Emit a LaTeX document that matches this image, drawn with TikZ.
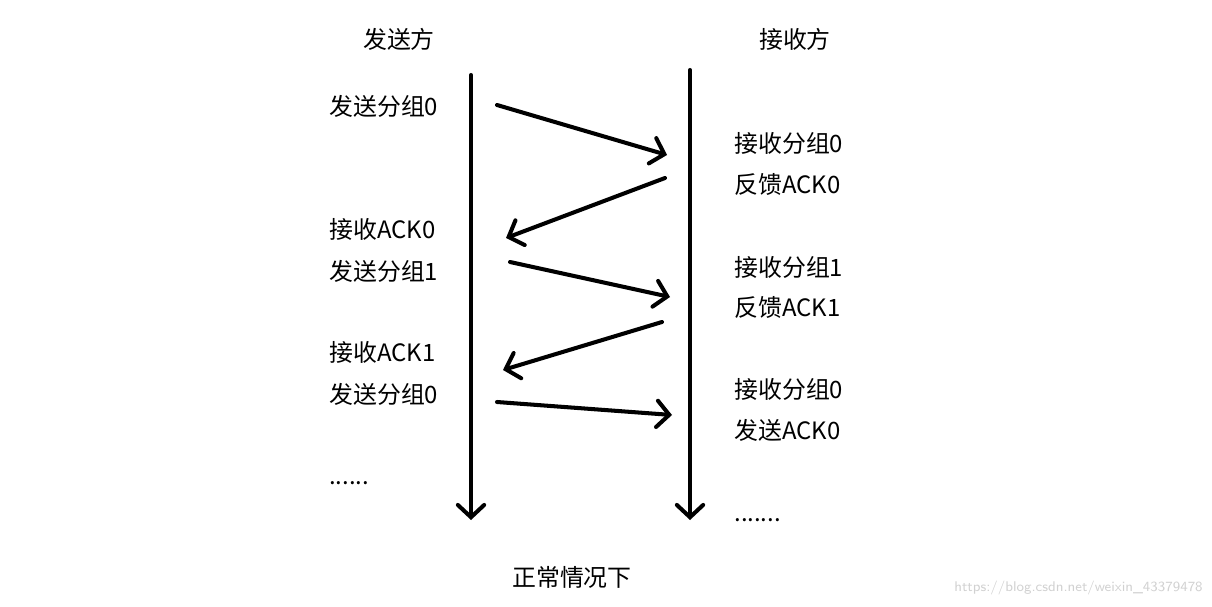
\documentclass[tikz,border=0pt]{standalone}
\usepackage{fontspec}
\usepackage{tikz}
\usetikzlibrary{arrows.meta,positioning}
\newfontfamily\cjk{Noto Sans CJK SC}

\begin{document}
\begin{tikzpicture}[
        x=0.02cm, y=-0.02cm,
        lbl/.style={anchor=west, inner sep=0pt, font=\cjk\fontsize{13.6}{16}\selectfont},
        dots/.style={lbl, anchor=base west},
        head/.style={inner sep=0pt, font=\cjk\fontsize{13.6}{16}\selectfont},
        timeline/.style={line width=2.3pt, line cap=round, -{Straight Barb[length=7pt,width=15pt,line cap=round]}},
        msg/.style={line width=2.3pt, line cap=round, -{Straight Barb[length=7pt,width=15pt,line cap=round]}}
    ]
        \useasboundingbox (0,0) rectangle (1212,607);
        % titles
        \node[head] (sender) at (399,39) {发送方};
        \node[head] (receiver) at (795,39) {接收方};
        \node[head] (caption) at (572,577) {正常情况下};
        % time lines
        \coordinate (stop) at (471,75);
        \coordinate (sbot) at (471,520);
        \coordinate (rtop) at (690,70);
        \coordinate (rbot) at (690,520);
        \draw[timeline] (stop) -- (sbot);
        \draw[timeline] (rtop) -- (rbot);
        % sender side
        \node[lbl] (s1) at (329,106) {发送分组0};
        \node[lbl] (s2) at (329,229) {接收ACK0};
        \node[lbl] (s3) at (329,271) {发送分组1};
        \node[lbl] (s4) at (329,352) {接收ACK1};
        \node[lbl] (s5) at (329,394) {发送分组0};
        \node[dots] (s6) at (329,484) {......};
        % receiver side
        \node[lbl] (r1) at (734,143) {接收分组0};
        \node[lbl] (r2) at (734,184) {反馈ACK0};
        \node[lbl] (r3) at (734,267) {接收分组1};
        \node[lbl] (r4) at (734,307) {反馈ACK1};
        \node[lbl] (r5) at (734,389) {接收分组0};
        \node[lbl] (r6) at (734,430) {发送ACK0};
        \node[dots] (r7) at (734,521) {.......};
        % messages
        \coordinate (m1a) at (497,105); \coordinate (m1b) at (667,155);
        \coordinate (m2a) at (665,178); \coordinate (m2b) at (506,238);
        \coordinate (m3a) at (510,262); \coordinate (m3b) at (670,297);
        \coordinate (m4a) at (662,322); \coordinate (m4b) at (503,370);
        \coordinate (m5a) at (497,402); \coordinate (m5b) at (672,415);
        \draw[msg] (m1a) -- (m1b);
        \draw[msg] (m2a) -- (m2b);
        \draw[msg] (m3a) -- (m3b);
        \draw[msg] (m4a) -- (m4b);
        \draw[msg] (m5a) -- (m5b);
        % watermark
        \node[anchor=east, inner sep=0pt, text=black!18, font=\fontsize{8}{10}\selectfont\sffamily] (mark) at (1203,588) {https://blog.csdn.net/weixin\_43379478};
    \end{tikzpicture}
\end{document}
